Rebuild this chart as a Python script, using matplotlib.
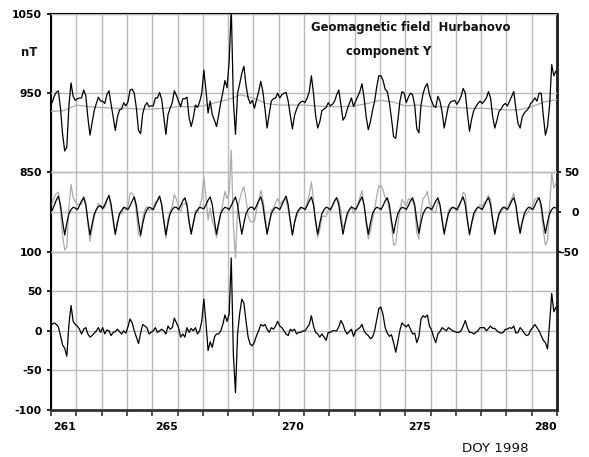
import numpy as np
import matplotlib
matplotlib.use("Agg")
import matplotlib.pyplot as plt

plt.rcParams["axes.unicode_minus"] = False

# quiet-day level of Y (grey line, top panel), every half day from DOY 260.0
quiet_y = [927, 928, 935, 933, 932, 931, 931, 930, 930, 931,
           933, 933, 934, 938, 942, 948, 944, 937, 935, 935,
           935, 934, 933, 933, 934, 937, 941, 939, 934, 935,
           933, 933, 932, 931, 931, 930, 929, 929, 933, 939, 942]

# 2-hourly values, one row per day 260..279
obs_y = [
    [938, 946, 951, 953, 931, 898, 877, 882, 934, 963, 946, 941],
    [943, 944, 944, 954, 947, 919, 897, 913, 928, 937, 945, 940],
    [940, 937, 948, 953, 936, 920, 903, 920, 929, 930, 938, 934],
    [939, 954, 955, 950, 931, 903, 899, 924, 934, 938, 933, 934],
    [934, 944, 944, 951, 942, 920, 898, 923, 931, 938, 953, 947],
    [940, 933, 943, 943, 945, 919, 908, 919, 935, 932, 939, 950],
    [979, 954, 925, 940, 923, 916, 908, 922, 938, 951, 966, 957],
    [990, 1058, 940, 898, 950, 962, 975, 984, 960, 944, 937, 941],
    [931, 942, 952, 965, 952, 930, 906, 924, 940, 943, 944, 950],
    [944, 948, 950, 951, 940, 922, 905, 922, 930, 936, 939, 940],
    [938, 944, 952, 972, 950, 922, 906, 914, 928, 930, 932, 938],
    [934, 936, 940, 948, 954, 936, 916, 920, 930, 937, 944, 933],
    [940, 946, 952, 962, 944, 920, 904, 914, 928, 940, 958, 972],
    [972, 966, 955, 952, 938, 918, 895, 893, 915, 940, 952, 950],
    [938, 945, 950, 948, 935, 905, 900, 935, 950, 958, 962, 948],
    [940, 934, 932, 946, 940, 926, 906, 920, 934, 939, 940, 941],
    [936, 940, 946, 956, 950, 925, 902, 917, 928, 933, 937, 940],
    [937, 940, 944, 952, 944, 920, 906, 916, 927, 930, 935, 937],
    [934, 940, 946, 952, 930, 912, 906, 920, 925, 928, 931, 937],
    [940, 944, 940, 950, 950, 922, 897, 908, 935, 986, 972, 978],
]

# daily variation: observed minus quiet level (grey) and model (black)
var_obs = [
    [10, 18, 23, 25, 3, -30, -48, -44, 6, 35, 18, 13],
    [9, 10, 10, 20, 13, -15, -37, -21, -6, 3, 11, 6],
    [8, 5, 16, 21, 4, -12, -29, -12, -3, -2, 6, 2],
    [8, 23, 24, 19, 0, -28, -32, -7, 3, 7, 2, 3],
    [3, 13, 13, 20, 11, -11, -33, -8, 0, 7, 22, 16],
    [7, 0, 10, 10, 12, -14, -25, -14, 2, -1, 6, 17],
    [44, 19, -10, 5, -12, -19, -32, -18, -2, 11, 26, 17],
    [24, 78, -16, -58, 5, 16, 26, 32, 16, -5, -11, -13],
    [-11, 2, 14, 27, 15, -3, -26, -16, 2, 5, 12, 17],
    [9, 13, 15, 16, 3, -10, -29, -12, -6, 1, 4, 5],
    [3, 12, 22, 38, 15, -13, -32, -22, -6, -5, -6, 3],
    [1, 8, 14, 18, 14, 2, -20, -14, -6, 2, 8, -2],
    [3, 10, 18, 27, 9, -15, -34, -24, -10, 3, 20, 33],
    [33, 28, 18, 15, 2, -16, -42, -40, -16, 4, 16, 12],
    [8, 16, 16, 14, 6, -26, -34, 2, 17, 20, 26, 11],
    [4, 0, -1, 14, 8, -7, -26, -14, 2, 5, 6, 4],
    [1, 6, 14, 25, 22, -7, -30, -16, -6, 1, 6, 9],
    [7, 12, 14, 21, 15, -8, -25, -14, -4, 0, 4, 7],
    [5, 12, 17, 24, 6, -13, -23, -12, -5, -3, 1, 6],
    [7, 16, 18, 18, 3, -23, -42, -36, 8, 50, 30, 36],
]

var_model = [
    [2, 8, 15, 20, 9, -12, -29, -14, -2, 3, 6, 5],
    [3, 8, 14, 18, 9, -11, -29, -15, -3, 3, 7, 8],
    [4, 9, 15, 21, 10, -10, -28, -14, -2, 2, 6, 5],
    [3, 8, 14, 19, 8, -12, -29, -15, -3, 3, 6, 5],
    [3, 9, 15, 20, 9, -11, -29, -14, -2, 3, 6, 6],
    [3, 8, 14, 18, 8, -12, -28, -14, -2, 3, 6, 5],
    [4, 9, 15, 19, 9, -11, -28, -14, -2, 3, 6, 5],
    [3, 8, 14, 19, 9, -11, -28, -14, -2, 3, 6, 6],
    [3, 8, 14, 19, 9, -11, -28, -14, -2, 3, 6, 5],
    [3, 9, 15, 20, 9, -12, -29, -14, -2, 3, 6, 5],
    [3, 8, 14, 19, 9, -11, -28, -14, -2, 3, 6, 5],
    [3, 8, 14, 18, 9, -11, -28, -14, -2, 3, 6, 5],
    [3, 8, 14, 19, 9, -11, -28, -14, -2, 3, 6, 5],
    [3, 8, 14, 18, 9, -11, -27, -13, -2, 3, 6, 5],
    [3, 8, 14, 18, 9, -11, -27, -13, -2, 3, 6, 5],
    [3, 8, 14, 18, 9, -11, -28, -14, -2, 3, 6, 5],
    [3, 8, 14, 19, 9, -11, -28, -14, -2, 3, 6, 5],
    [3, 8, 14, 18, 9, -11, -28, -14, -2, 3, 6, 5],
    [3, 8, 14, 18, 9, -11, -27, -13, -2, 3, 6, 5],
    [3, 8, 14, 18, 9, -11, -27, -13, -2, 3, 6, 5],
]

# residual: observed variation minus model
residual = [
    [8, 10, 8, 5, -6, -18, -22, -32, 8, 32, 12, 8],
    [6, 2, -4, 2, 4, -4, -8, -6, -3, 0, 4, -2],
    [4, -4, 1, 0, -6, -2, -1, 2, -1, -4, 0, -3],
    [5, 15, 10, 0, -8, -16, -3, 8, 6, 4, -4, -2],
    [0, 4, -2, 0, 2, 0, -4, 6, 2, 4, 16, 10],
    [4, -8, -4, -8, 4, -2, 3, 0, 4, -4, 0, 12],
    [40, 10, -25, -14, -21, -8, -4, -4, 0, 8, 20, 12],
    [21, 92, -30, -78, -4, 22, 40, 35, 12, -8, -17, -19],
    [-14, -6, 0, 8, 6, 8, 2, -2, 4, 2, 6, 12],
    [6, 4, 0, -4, -6, 2, 0, 2, -4, -2, -2, 0],
    [0, 4, 8, 19, 6, -2, -4, -8, -4, -8, -12, -2],
    [-2, 0, 0, 0, 5, 13, 8, 0, -4, -1, 2, -7],
    [0, 2, 4, 8, 0, -4, -6, -10, -8, 0, 14, 28],
    [30, 20, 4, -3, -7, -5, -15, -27, -14, 1, 10, 7],
    [5, 8, 2, -4, -3, -15, -7, 15, 19, 17, 20, 6],
    [1, -8, -15, -4, -1, 4, 2, 0, 4, 2, 0, -1],
    [-2, -2, 0, 6, 13, 4, -2, -2, -4, -2, 0, 4],
    [4, 4, 0, 3, 6, 3, 3, 0, -2, -3, -2, 2],
    [2, 4, 3, 6, -3, -2, 4, 1, -3, -6, -5, 1],
    [4, 8, 4, 0, -6, -12, -15, -23, 10, 47, 24, 30],
]

first_day = 260
n_days = len(obs_y)
t2h = first_day + (np.arange(n_days * 12) * 2 + 1) / 24.0
t_quiet = first_day + np.arange(len(quiet_y)) * 0.5

days = np.arange(first_day, first_day + n_days + 1)
day_labels = ["261", "265", "270", "275", "280"]

black = "#000000"
grey = "#ababab"
grid_c = "#b9b9b9"
bold = dict(fontsize=7.8, fontweight="bold", family="DejaVu Sans")

W, H = 589, 457
fig = plt.figure(figsize=(W / 100, H / 100), dpi=100)
ax = fig.add_axes([51 / W, 1 - 410 / H, 506 / W, 396 / H])
ax_mid = ax.twinx()
ax_top = ax.twinx()

# one shared vertical scale: 50 nT is the same height in all three panels
ax.set_ylim(-100, 400)
ax_mid.set_ylim(-250, 250)
ax_top.set_ylim(550, 1050)
ax.set_xlim(first_day, first_day + n_days)

ax.plot(t2h, np.ravel(residual), color=black, lw=0.9)
ax_mid.plot(t2h, np.ravel(var_obs), color=grey, lw=0.9)
ax_mid.plot(t2h, np.ravel(var_model), color=black, lw=0.9)
ax_top.plot(t_quiet, quiet_y, color=grey, lw=0.9)
ax_top.plot(t2h, np.ravel(obs_y), color=black, lw=0.9)

# x axis: a tick every day, labels right-aligned to their tick
ax.set_xticks(days)
ax.set_xticklabels([str(d) if str(d) in day_labels else "" for d in days])
ax.tick_params(axis="x", direction="out", length=4.3, width=1.2, pad=4.5,
               color="#333333")
plt.setp(ax.get_xticklabels(), ha="right", **bold)
ax.grid(axis="x", color=grid_c, lw=1.0)

# bottom panel (residual), labels on the left
ax.set_yticks([-100, -50, 0, 50, 100])
ax.grid(axis="y", color=grid_c, lw=1.0)
ax.tick_params(axis="y", direction="out", length=3, width=1.2, pad=3.5)
plt.setp(ax.get_yticklabels(), **bold)

# top panel (Y), also labelled on the left
ax_top.yaxis.tick_left()
ax_top.set_yticks([850, 950, 1050])
ax_top.grid(axis="y", color=grid_c, lw=1.0)
ax_top.tick_params(axis="y", direction="out", length=3, width=1.2, pad=3.5)
plt.setp(ax_top.get_yticklabels(), **bold)
ax_top.set_axisbelow(True)
for s in ax_top.spines.values():
    s.set_visible(False)

# middle panel (daily variation), labelled on the right
ax_mid.set_yticks([-50, 0, 50])
ax_mid.grid(axis="y", color=grid_c, lw=1.0)
ax_mid.tick_params(axis="y", direction="out", length=3, width=1.2, pad=13)
plt.setp(ax_mid.get_yticklabels(), ha="right", **bold)
ax_mid.set_axisbelow(True)
for name, s in ax_mid.spines.items():
    s.set_visible(name == "right")
ax_mid.spines["right"].set_linewidth(1.8)
ax_mid.spines["right"].set_color("#222222")

ax.set_axisbelow(True)
ax.spines["left"].set_linewidth(1.5)
ax.spines["top"].set_linewidth(1.5)
ax.spines["right"].set_linewidth(1.8)
ax.spines["right"].set_color("#222222")
ax.spines["bottom"].set_linewidth(2.0)
ax.spines["bottom"].set_color("#333333")

txt = dict(fontsize=8.4, fontweight="bold", family="DejaVu Sans", color="#111111")
fig.text(29 / W, 1 - 52 / H, "nT", ha="center", va="center", **txt)
fig.text(311 / W, 1 - 28 / H, "Geomagnetic field  Hurbanovo", ha="left",
         va="center", **txt)
fig.text(346 / W, 1 - 51 / H, "component Y", ha="left", va="center", **txt)
fig.text(462 / W, 1 - 448 / H, "DOY 1998", ha="left", va="center",
         fontsize=9.6, family="DejaVu Sans", color="#111111")

fig.savefig("out.png", dpi=100)
